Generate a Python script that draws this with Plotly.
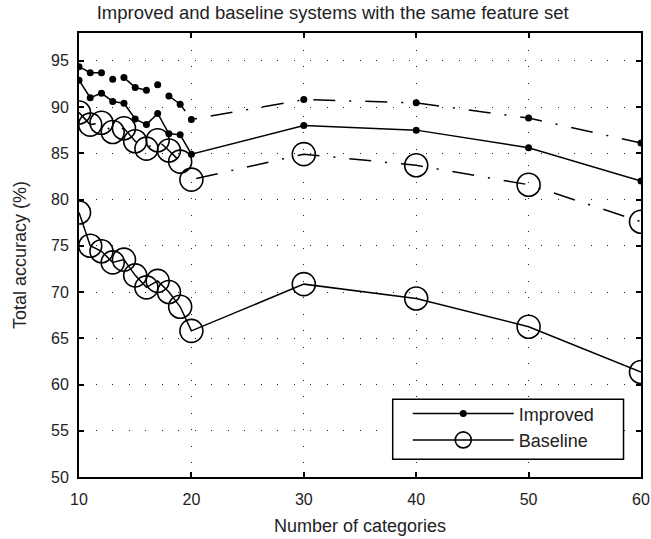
import plotly.graph_objects as go

categories = [10, 11, 12, 13, 14, 15, 16, 17, 18, 19, 20, 30, 40, 50, 60]

improved_solid = [92.9, 91.0, 91.5, 90.6, 90.4, 88.7, 88.1, 89.3, 87.1, 87.0, 84.9, 88.0, 87.5, 85.6, 82.0]
improved_dashdot = [94.35, 93.7, 93.7, 93.0, 93.2, 92.1, 91.8, 92.4, 91.2, 90.3, 88.65, 90.8, 90.45, 88.8, 86.1]
baseline_solid = [78.6, 75.0, 74.4, 73.2, 73.5, 71.8, 70.5, 71.2, 70.0, 68.4, 65.8, 70.85, 69.3, 66.25, 61.35]
baseline_dashdot = [89.4, 88.1, 88.3, 87.3, 87.7, 86.3, 85.5, 86.4, 85.3, 84.1, 82.15, 84.9, 83.7, 81.6, 77.6]

x_ticks = [10, 20, 30, 40, 50, 60]
y_ticks = [50, 55, 60, 65, 70, 75, 80, 85, 90, 95]

FONT = "Liberation Sans, Arial, sans-serif"
TXT = "#222"
DASHDOT = "22px,14px,2px,14px"

fig = go.Figure()

fig.add_trace(go.Scatter(
    x=categories, y=improved_solid, name="Improved", mode="lines+markers",
    line=dict(color="black", width=1.5),
    marker=dict(symbol="circle", size=7, color="black"),
    showlegend=True,
))
fig.add_trace(go.Scatter(
    x=categories, y=improved_dashdot, name="Improved (dash-dot)", mode="lines+markers",
    line=dict(color="black", width=1.5, dash=DASHDOT),
    marker=dict(symbol="circle", size=7, color="black"),
    showlegend=False,
))
fig.add_trace(go.Scatter(
    x=categories, y=baseline_solid, name="Baseline", mode="lines+markers",
    line=dict(color="black", width=1.5),
    marker=dict(symbol="circle-open", size=23, color="black", line=dict(width=1.6)),
    showlegend=True,
))
fig.add_trace(go.Scatter(
    x=categories, y=baseline_dashdot, name="Baseline (dash-dot)", mode="lines+markers",
    line=dict(color="black", width=1.5, dash=DASHDOT),
    marker=dict(symbol="circle-open", size=23, color="black", line=dict(width=1.6)),
    showlegend=False,
))

axis_common = dict(
    showline=True, linecolor="black", linewidth=2, mirror="ticks",
    ticks="inside", ticklen=5, tickwidth=1.5, tickcolor="black",
    showgrid=True, gridcolor="#222", gridwidth=1, griddash="1px,15.5px",
    zeroline=False, automargin=False,
    tickfont=dict(family=FONT, size=16, color=TXT),
)

fig.update_xaxes(
    range=[10, 60], tickvals=x_ticks, ticktext=[str(v) for v in x_ticks],
    ticklabelstandoff=7,
    title=dict(text="Number of categories", font=dict(family=FONT, size=18, color=TXT), standoff=12),
    **axis_common,
)
fig.update_yaxes(
    range=[50, 98], tickvals=y_ticks, ticktext=[str(v) for v in y_ticks],
    ticklabelstandoff=5,
    title=dict(text="Total accuracy (%)", font=dict(family=FONT, size=18, color=TXT), standoff=20),
    **axis_common,
)

# legend frame (decoration) behind the legend entries
fig.add_shape(
    type="rect", xref="paper", yref="paper",
    x0=0.5582, x1=0.9689, y0=0.0399, y1=0.1752,
    fillcolor="white", line=dict(color="black", width=1.5), layer="above",
)

fig.update_layout(
    width=651, height=539,
    margin=dict(l=79, r=9.5, t=33.3, b=62.3),
    paper_bgcolor="white", plot_bgcolor="white",
    title=dict(text="Improved and baseline systems with the same feature set",
               font=dict(family=FONT, size=18.5, color=TXT),
               x=0.511, xanchor="center", y=0.976, yanchor="middle"),
    legend=dict(
        x=0.585, y=0.184, xanchor="left", yanchor="top",
        bgcolor="rgba(0,0,0,0)", borderwidth=0,
        font=dict(family=FONT, size=18, color=TXT),
        itemwidth=101, tracegroupgap=0,
    ),
    showlegend=True,
)

fig.write_html(
    "out.html",
    config={"displayModeBar": False},
    post_script="document.body.style.margin='0';document.documentElement.style.overflow='hidden';",
)
